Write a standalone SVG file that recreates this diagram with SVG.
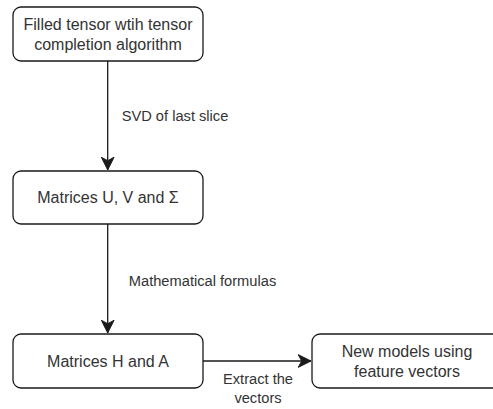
<svg xmlns="http://www.w3.org/2000/svg" width="493" height="409" viewBox="0 0 493 409">
<style>
.box{fill:#ffffff;stroke:#1a1a1a;stroke-width:1.3}
.t{font-family:"Liberation Sans",Arial,sans-serif;font-size:16px;fill:#333333;text-anchor:middle}
.l{font-family:"Liberation Sans",Arial,sans-serif;font-size:14.67px;fill:#333333;text-anchor:middle}
.c{fill:none;stroke:#1a1a1a;stroke-width:1.3}
</style>
<defs>
<marker id="arr" markerUnits="userSpaceOnUse" markerWidth="14" markerHeight="14" refX="11" refY="5.5" orient="auto" viewBox="0 0 12 11">
<path d="M0,0 L11,5.5 L0,11 L3,5.5 Z" fill="#1a1a1a" stroke="#1a1a1a" stroke-width="0.8"/>
</marker>
</defs>
<rect width="493" height="409" fill="#ffffff"/>
<g id="connectors">
<path class="c" d="M107.7,61 L107.7,170" marker-end="url(#arr)"/>
<path class="c" d="M107.7,224 L107.7,333" marker-end="url(#arr)"/>
<path class="c" d="M203,361 L311,361" marker-end="url(#arr)"/>
<text class="l" x="175" y="121">SVD of last slice</text>
<text class="l" x="202.5" y="285.5">Mathematical formulas</text>
<text class="l" x="258" y="383.5">Extract the</text>
<text class="l" x="258" y="402.5">vectors</text>
</g>
<g id="node-filled-tensor">
<rect class="box" x="13" y="7" width="190" height="54" rx="8" ry="8"/>
<text class="t" x="108" y="30">Filled tensor wtih tensor</text>
<text class="t" x="108" y="49.5">completion algorithm</text>
</g>
<g id="node-matrices-uvs">
<rect class="box" x="13" y="171" width="190" height="53" rx="8" ry="8"/>
<text class="t" x="108" y="203">Matrices U, V and Σ</text>
</g>
<g id="node-matrices-ha">
<rect class="box" x="13" y="334" width="190" height="54" rx="8" ry="8"/>
<text class="t" x="108" y="366.5">Matrices H and A</text>
</g>
<g id="node-new-models">
<rect class="box" x="312" y="334" width="190" height="54" rx="8" ry="8"/>
<text class="t" x="407" y="357">New models using</text>
<text class="t" x="407" y="376.5">feature vectors</text>
</g>
</svg>
